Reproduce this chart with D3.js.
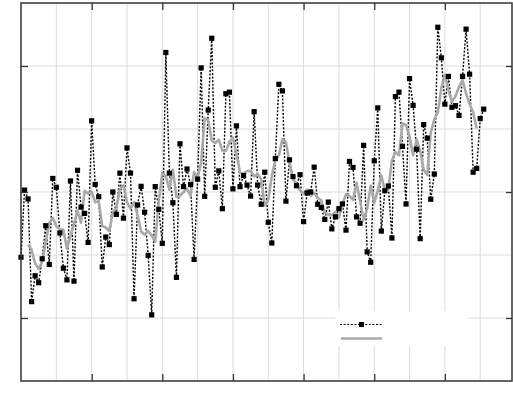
<!DOCTYPE html>
<html>
<head>
<meta charset="utf-8">
<script src="https://cdn.jsdelivr.net/npm/d3@7"></script>
<style>
  body { margin: 0; background: #fff; }
  svg { display: block; }
</style>
</head>
<body>
<script>

var w = 513;
var h = 397;

// annual values, 1880 .. 2011
var years = d3.range(1880, 2012);
var values = [
  -0.207, 0.006, -0.022, -0.348, -0.266, -0.288, -0.212, -0.107, -0.230, 0.043,
  0.015, -0.130, -0.242, -0.279, 0.035, -0.283, 0.069, -0.048, -0.068, -0.160,
  0.226, 0.024, -0.015, -0.238, -0.143, -0.167, 0.000, -0.071, 0.060, -0.083,
  0.140, 0.060, -0.339, -0.041, 0.018, -0.064, -0.201, -0.390, 0.017, -0.055,
  -0.163, 0.443, 0.060, -0.034, -0.271, 0.153, 0.017, 0.073, 0.024, -0.214,
  0.041, 0.394, -0.014, 0.260, 0.488, 0.015, 0.067, -0.053, 0.312, 0.317,
  0.010, 0.210, 0.017, 0.052, 0.022, -0.013, 0.255, 0.022, -0.039, 0.063,
  -0.096, -0.162, 0.106, 0.342, 0.321, -0.029, 0.102, 0.049, 0.020, 0.055,
  -0.094, -0.003, 0.000, 0.079, -0.039, -0.049, -0.087, -0.032, -0.117, -0.079,
  -0.053, -0.038, -0.121, 0.097, 0.078, -0.079, -0.099, 0.148, -0.190, -0.223,
  0.099, 0.267, -0.124, 0.004, 0.019, -0.146, 0.303, 0.317, 0.145, -0.038,
  0.360, 0.275, 0.136, -0.148, 0.214, 0.171, -0.023, 0.057, 0.523, 0.426,
  0.279, 0.367, 0.269, 0.274, 0.243, 0.367, 0.517, 0.374, 0.063, 0.075,
  0.233, 0.263
];

var xMajor = [1900, 1920, 1940, 1960, 1980, 2000];
var xGrid = [1890, 1900, 1910, 1920, 1930, 1940, 1950, 1960, 1970, 1980, 1990, 2000, 2010];
var yMajor = [-0.4, 0, 0.4];
var yGrid = [-0.4, -0.2, 0, 0.2, 0.4];

var data = years.map(function(yr, i) { return {year: yr, value: values[i]}; });

// centred 5-year running mean of the values
var smooth = [];
for (var i = 2; i < data.length - 2; i++) {
  smooth.push({year: years[i], value: d3.mean(values.slice(i - 2, i + 3))});
}

var plotL = 21, plotR = 512, plotT = 3, plotB = 381;

var x = d3.scaleLinear().domain([1880, 2019]).range([plotL, plotR]);
var y = d3.scaleLinear().domain([-0.6, 0.6]).range([plotB, plotT]);

var svg = d3.select("body")
        .append("svg")
        .attr("width", w)
        .attr("height", h);

// grid
var grid = svg.append("g").attr("class", "grid");
grid.selectAll("line.vx")
    .data(xGrid)
    .enter()
    .append("line")
    .attr("x1", function(d) { return x(d); })
    .attr("x2", function(d) { return x(d); })
    .attr("y1", plotT)
    .attr("y2", plotB)
    .attr("stroke", "#dcdcdc")
    .attr("stroke-width", 1);
grid.selectAll("line.hy")
    .data(yGrid)
    .enter()
    .append("line")
    .attr("x1", plotL)
    .attr("x2", plotR)
    .attr("y1", function(d) { return y(d); })
    .attr("y2", function(d) { return y(d); })
    .attr("stroke", "#dcdcdc")
    .attr("stroke-width", 1);

var line = d3.line()
        .x(function(d) { return x(d.year); })
        .y(function(d) { return y(d.value); });

// raw series, dotted
svg.append("path")
    .datum(data)
    .attr("fill", "none")
    .attr("stroke", "#000")
    .attr("stroke-width", 1.4)
    .attr("stroke-dasharray", "2,1.6")
    .attr("d", line);

// running mean, grey
svg.append("path")
    .datum(smooth)
    .attr("fill", "none")
    .attr("stroke", "#a9a9a9")
    .attr("stroke-width", 2.6)
    .attr("stroke-linejoin", "round")
    .attr("d", line);

svg.selectAll("rect.pt")
    .data(data)
    .enter()
    .append("rect")
    .attr("class", "pt")
    .attr("x", function(d) { return x(d.year) - 2.6; })
    .attr("y", function(d) { return y(d.value) - 2.6; })
    .attr("width", 5.2)
    .attr("height", 5.2)
    .attr("fill", "#000");

// legend
var legend = svg.append("g");
legend.append("rect")
    .attr("x", 335)
    .attr("y", 311)
    .attr("width", 133)
    .attr("height", 35)
    .attr("fill", "#fff");
legend.append("line")
    .attr("x1", 340).attr("x2", 383)
    .attr("y1", 324.5).attr("y2", 324.5)
    .attr("stroke", "#000")
    .attr("stroke-width", 1.2)
    .attr("stroke-dasharray", "2,1.6");
legend.append("rect")
    .attr("x", 359).attr("y", 322)
    .attr("width", 5).attr("height", 5)
    .attr("fill", "#000");
legend.append("line")
    .attr("x1", 341).attr("x2", 382)
    .attr("y1", 338.5).attr("y2", 338.5)
    .attr("stroke", "#a9a9a9")
    .attr("stroke-width", 2.4);

// axes with inward ticks, no labels
var axisColor = "#333";
function styleAxis(g) {
  g.select(".domain").remove();
  g.selectAll(".tick line").attr("stroke", axisColor).attr("stroke-width", 1.3);
  g.selectAll(".tick text").remove();
}

svg.append("g")
    .attr("transform", "translate(0," + plotB + ")")
    .call(d3.axisBottom(x).tickValues(xMajor).tickSize(-7).tickFormat(""))
    .call(styleAxis);
svg.append("g")
    .attr("transform", "translate(0," + plotT + ")")
    .call(d3.axisTop(x).tickValues(xMajor).tickSize(-7).tickFormat(""))
    .call(styleAxis);
svg.append("g")
    .attr("transform", "translate(" + plotL + ",0)")
    .call(d3.axisLeft(y).tickValues(yMajor).tickSize(-7).tickFormat(""))
    .call(styleAxis);
svg.append("g")
    .attr("transform", "translate(" + plotR + ",0)")
    .call(d3.axisRight(y).tickValues(yMajor).tickSize(-6).tickFormat(""))
    .call(styleAxis);

// frame
svg.append("rect")
    .attr("x", plotL)
    .attr("y", plotT)
    .attr("width", plotR - plotL)
    .attr("height", plotB - plotT)
    .attr("fill", "none")
    .attr("stroke", axisColor)
    .attr("stroke-width", 1.5);

</script>
</body>
</html>
